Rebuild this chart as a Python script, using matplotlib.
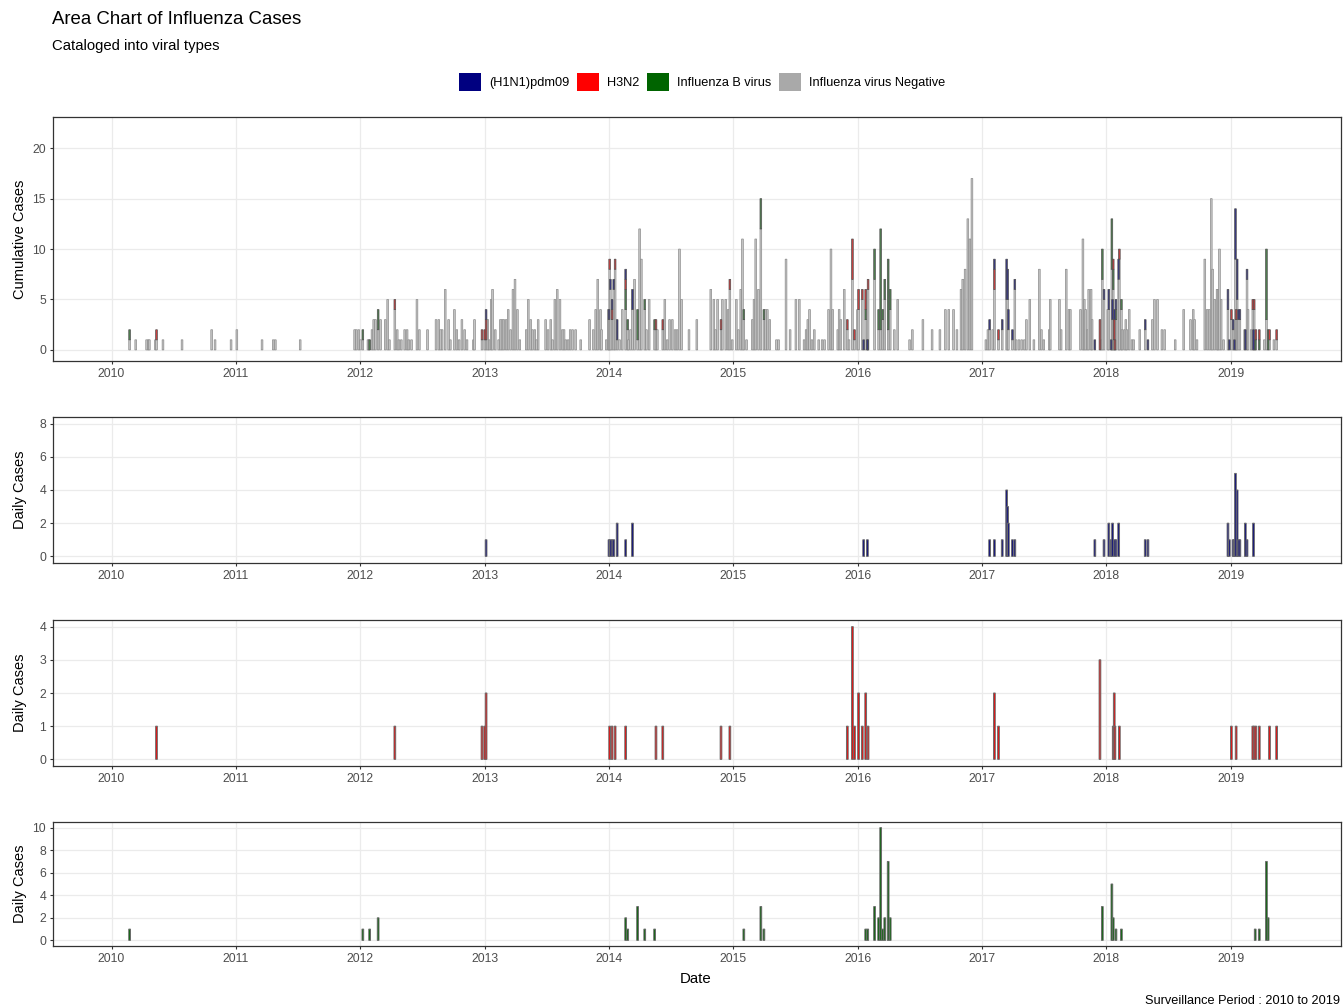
import pandas as pd
import matplotlib
matplotlib.use("Agg")
import matplotlib.pyplot as plt
import matplotlib.dates as mdates
from matplotlib.patches import Patch

plt.rcParams['font.family'] = ['Liberation Sans', 'DejaVu Sans']

# Weekly counts per viral type (date, cases)
h1n1_dates = ["2013-01-05", "2014-01-01", "2014-01-05", "2014-01-10", "2014-01-15", "2014-01-25",
              "2014-02-19", "2014-03-11", "2016-01-19", "2016-01-30", "2017-01-23", "2017-02-06",
              "2017-03-01", "2017-03-14", "2017-03-17", "2017-03-19", "2017-03-31", "2017-04-07",
              "2017-11-28", "2017-12-25", "2018-01-08", "2018-01-15", "2018-01-19", "2018-01-25",
              "2018-01-29", "2018-02-06", "2018-04-25", "2018-05-03", "2018-12-24", "2018-12-28",
              "2019-01-08", "2019-01-12", "2019-01-15", "2019-01-20", "2019-01-24", "2019-01-28",
              "2019-02-13", "2019-02-18", "2019-03-09"]
h1n1_cases = [1, 1, 1, 1, 1, 2,
              1, 2, 1, 1, 1, 1,
              1, 4, 3, 2, 1, 1,
              1, 1, 2, 1, 2, 1,
              1, 2, 1, 1, 2, 1,
              1, 1, 5, 4, 1, 1,
              2, 1, 2]

h3n2_dates = ["2010-05-13", "2012-04-12", "2012-12-24", "2013-01-01", "2013-01-05", "2014-01-03",
              "2014-01-10", "2014-01-19", "2014-02-19", "2014-05-19", "2014-06-08", "2014-11-26",
              "2014-12-22", "2015-12-02", "2015-12-17", "2015-12-23", "2016-01-04", "2016-01-15",
              "2016-01-25", "2016-02-01", "2017-02-06", "2017-02-18", "2017-12-13", "2018-01-21",
              "2018-01-24", "2018-01-26", "2018-02-08", "2019-01-03", "2019-01-17", "2019-03-07",
              "2019-03-11", "2019-03-16", "2019-03-26", "2019-04-25", "2019-05-16"]
h3n2_cases = [1, 1, 1, 1, 2, 1,
              1, 1, 1, 1, 1, 1,
              1, 1, 4, 1, 2, 1,
              2, 1, 2, 1, 3, 1,
              2, 1, 1, 1, 1, 1,
              1, 1, 1, 1, 1]

flub_dates = ["2010-02-23", "2012-01-09", "2012-01-29", "2012-02-23", "2014-02-19", "2014-02-25",
              "2014-03-26", "2014-04-16", "2014-05-15", "2015-02-01", "2015-03-23", "2015-04-01",
              "2016-01-25", "2016-01-31", "2016-02-20", "2016-03-03", "2016-03-09", "2016-03-15",
              "2016-03-21", "2016-03-31", "2016-04-06", "2017-12-20", "2018-01-17", "2018-01-21",
              "2018-01-29", "2018-02-14", "2019-03-14", "2019-03-26", "2019-04-16", "2019-04-21"]
flub_cases = [1, 1, 1, 2, 2, 1,
              3, 1, 1, 1, 3, 1,
              1, 1, 3, 2, 10, 1,
              2, 7, 2, 3, 5, 2,
              1, 1, 1, 1, 7, 2]

neg_dates = [
    "2010-02-23", "2010-03-13", "2010-04-14", "2010-04-19", "2010-04-22", "2010-05-10", "2010-05-13",
    "2010-06-01", "2010-07-27", "2010-10-22", "2010-11-01", "2010-12-18", "2011-01-04", "2011-03-19",
    "2011-04-21", "2011-04-27", "2011-07-09", "2011-12-16", "2011-12-21", "2011-12-28", "2012-01-02",
    "2012-01-09", "2012-01-24", "2012-01-27", "2012-02-05", "2012-02-10", "2012-02-15", "2012-02-23",
    "2012-03-01", "2012-03-15", "2012-03-22", "2012-03-27", "2012-04-12", "2012-04-19", "2012-04-24",
    "2012-05-01", "2012-05-11", "2012-05-18", "2012-05-23", "2012-05-31", "2012-06-16", "2012-06-23",
    "2012-07-17", "2012-08-11", "2012-08-19", "2012-08-24", "2012-08-29", "2012-09-07", "2012-09-17",
    "2012-09-22", "2012-10-04", "2012-10-11", "2012-10-18", "2012-10-26", "2012-11-03", "2012-11-10",
    "2012-11-29", "2012-12-02", "2012-12-24", "2013-01-01", "2013-01-05", "2013-01-10", "2013-01-14",
    "2013-01-20", "2013-01-24", "2013-02-01", "2013-02-11", "2013-02-16", "2013-02-21", "2013-02-26",
    "2013-03-05", "2013-03-11", "2013-03-18", "2013-03-25", "2013-03-31", "2013-04-07", "2013-04-14",
    "2013-05-03", "2013-05-09", "2013-05-16", "2013-05-21", "2013-05-28", "2013-06-02", "2013-06-07",
    "2013-06-29", "2013-07-06", "2013-07-14", "2013-07-19", "2013-07-26", "2013-08-02", "2013-08-10",
    "2013-08-17", "2013-08-22", "2013-08-27", "2013-09-03", "2013-09-09", "2013-09-16", "2013-09-25",
    "2013-10-10", "2013-11-05", "2013-11-16", "2013-11-23", "2013-11-29", "2013-12-07", "2013-12-10",
    "2013-12-24", "2013-12-30", "2014-01-01", "2014-01-03", "2014-01-05", "2014-01-10", "2014-01-15",
    "2014-01-19", "2014-01-25", "2014-02-01", "2014-02-09", "2014-02-19", "2014-02-25", "2014-02-27",
    "2014-03-05", "2014-03-11", "2014-03-17", "2014-03-26", "2014-04-01", "2014-04-06", "2014-04-16",
    "2014-04-21", "2014-04-29", "2014-05-15", "2014-05-19", "2014-05-23", "2014-06-08", "2014-06-14",
    "2014-06-21", "2014-06-28", "2014-07-06", "2014-07-14", "2014-07-20", "2014-07-27", "2014-08-02",
    "2014-08-24", "2014-09-16", "2014-10-27", "2014-11-05", "2014-11-10", "2014-11-16", "2014-11-26",
    "2014-11-30", "2014-12-10", "2014-12-17", "2014-12-22", "2014-12-29", "2015-01-10", "2015-01-16",
    "2015-01-23", "2015-01-28", "2015-02-01", "2015-02-09", "2015-02-26", "2015-03-03", "2015-03-08",
    "2015-03-16", "2015-03-23", "2015-04-01", "2015-04-06", "2015-04-11", "2015-04-18", "2015-05-08",
    "2015-05-14", "2015-06-05", "2015-06-17", "2015-07-04", "2015-07-14", "2015-07-28", "2015-08-03",
    "2015-08-08", "2015-08-13", "2015-08-20", "2015-08-27", "2015-09-09", "2015-09-19", "2015-09-26",
    "2015-10-08", "2015-10-15", "2015-10-20", "2015-11-04", "2015-11-08", "2015-11-13", "2015-11-23",
    "2015-12-02", "2015-12-07", "2015-12-17", "2015-12-23", "2016-01-01", "2016-01-04", "2016-01-15",
    "2016-01-25", "2016-02-01", "2016-02-20", "2016-03-03", "2016-03-09", "2016-03-15", "2016-03-21",
    "2016-03-31", "2016-04-06", "2016-04-18", "2016-04-28", "2016-06-02", "2016-06-10", "2016-07-11",
    "2016-08-07", "2016-08-30", "2016-09-15", "2016-09-25", "2016-10-09", "2016-10-19", "2016-10-31",
    "2016-11-05", "2016-11-12", "2016-11-20", "2016-11-26", "2016-12-02", "2017-01-12", "2017-01-18",
    "2017-01-23", "2017-02-01", "2017-02-06", "2017-02-18", "2017-03-01", "2017-03-14", "2017-03-17",
    "2017-03-19", "2017-03-31", "2017-04-07", "2017-04-11", "2017-04-19", "2017-04-27", "2017-05-05",
    "2017-05-11", "2017-05-21", "2017-06-02", "2017-06-18", "2017-06-24", "2017-07-01", "2017-07-17",
    "2017-07-20", "2017-08-16", "2017-08-21", "2017-09-05", "2017-09-13", "2017-09-17", "2017-10-17",
    "2017-10-24", "2017-10-28", "2017-11-01", "2017-11-06", "2017-11-10", "2017-11-17", "2017-11-20",
    "2017-12-17", "2017-12-20", "2017-12-25", "2018-01-05", "2018-01-08", "2018-01-17", "2018-01-19",
    "2018-01-21", "2018-01-24", "2018-01-25", "2018-01-29", "2018-02-06", "2018-02-08", "2018-02-14",
    "2018-02-16", "2018-02-23", "2018-02-27", "2018-03-02", "2018-03-09", "2018-03-17", "2018-03-22",
    "2018-04-09", "2018-04-25", "2018-05-16", "2018-05-22", "2018-05-31", "2018-06-13", "2018-06-21",
    "2018-07-22", "2018-08-16", "2018-09-05", "2018-09-13", "2018-09-17", "2018-09-24", "2018-10-17",
    "2018-10-24", "2018-10-30", "2018-11-05", "2018-11-09", "2018-11-15", "2018-11-22", "2018-11-25",
    "2018-11-29", "2018-12-04", "2018-12-11", "2018-12-24", "2019-01-03", "2019-01-08", "2019-01-15",
    "2019-01-17", "2019-01-20", "2019-01-24", "2019-01-28", "2019-02-11", "2019-02-18", "2019-02-21",
    "2019-03-02", "2019-03-07", "2019-03-11", "2019-03-16", "2019-04-10", "2019-04-16", "2019-04-25",
    "2019-05-08", "2019-05-16"]
neg_cases = [
    1, 1, 1, 1, 1, 1, 1,
    1, 1, 2, 1, 1, 2, 1,
    1, 1, 1, 2, 2, 2, 1,
    1, 1, 1, 2, 3, 3, 2,
    3, 3, 5, 1, 4, 2, 1,
    1, 2, 2, 1, 1, 5, 2,
    2, 3, 3, 2, 2, 6, 3,
    1, 4, 2, 1, 3, 2, 1,
    1, 3, 1, 1, 1, 3, 1,
    5, 6, 2, 1, 3, 3, 3,
    3, 4, 2, 6, 7, 4, 1,
    2, 5, 3, 2, 2, 1, 3,
    3, 2, 3, 1, 5, 6, 5,
    2, 2, 1, 1, 2, 2, 2,
    1, 3, 2, 4, 7, 4, 2,
    1, 4, 3, 8, 6, 3, 6,
    8, 1, 1, 4, 4, 2, 1,
    2, 4, 7, 1, 12, 9, 4,
    2, 5, 2, 2, 2, 2, 5,
    1, 3, 3, 2, 2, 10, 5,
    2, 3, 6, 5, 2, 5, 2,
    5, 5, 4, 6, 1, 5, 2,
    6, 11, 3, 1, 3, 5, 11,
    6, 12, 3, 4, 4, 3, 1,
    1, 9, 2, 5, 5, 1, 2,
    3, 4, 1, 2, 1, 1, 1,
    4, 10, 4, 2, 4, 3, 6,
    2, 1, 7, 1, 4, 4, 5,
    3, 6, 7, 2, 2, 3, 5,
    2, 4, 2, 5, 1, 2, 3,
    2, 2, 4, 4, 4, 2, 6,
    7, 8, 13, 11, 17, 1, 2,
    2, 2, 6, 1, 2, 5, 5,
    2, 1, 6, 1, 1, 1, 1,
    3, 5, 1, 8, 2, 1, 2,
    5, 5, 2, 8, 4, 4, 4,
    11, 5, 4, 2, 6, 6, 3,
    1, 7, 5, 4, 4, 8, 3,
    6, 1, 3, 3, 7, 9, 4,
    2, 2, 3, 2, 4, 1, 1,
    2, 2, 3, 5, 5, 2, 2,
    1, 4, 3, 4, 3, 1, 9,
    4, 4, 15, 8, 5, 6, 6,
    10, 5, 1, 4, 3, 2, 9,
    3, 5, 3, 3, 2, 7, 4,
    2, 4, 4, 1, 1, 3, 1,
    1, 1]

type_names = ["(H1N1)pdm09", "H3N2", "Influenza B virus", "Influenza virus Negative"]
type_colors = ["#000080", "#FF0000", "#006400", "#A9A9A9"]

series = {
    "(H1N1)pdm09": pd.Series(h1n1_cases, index=pd.to_datetime(h1n1_dates)),
    "H3N2": pd.Series(h3n2_cases, index=pd.to_datetime(h3n2_dates)),
    "Influenza B virus": pd.Series(flub_cases, index=pd.to_datetime(flub_dates)),
    "Influenza virus Negative": pd.Series(neg_cases, index=pd.to_datetime(neg_dates)),
}
table = pd.DataFrame({k: s.groupby(level=0).sum() for k, s in series.items()}).fillna(0)

bar_w = 5  # days
x_min = pd.Timestamp("2009-07-13")
x_max = pd.Timestamp("2019-11-21")

W, H = 1343, 1008
fig = plt.figure(figsize=(W / 100, H / 100), dpi=100)


def px_axes(top, bottom, left=53, right=1341):
    return fig.add_axes([left / W, 1 - bottom / H, (right - left) / W, (bottom - top) / H])


def style_axes(ax, ylim, yticks):
    ax.set_xlim(x_min, x_max)
    ax.set_ylim(*ylim)
    ax.set_yticks(yticks)
    ax.xaxis.set_major_locator(mdates.YearLocator())
    ax.xaxis.set_major_formatter(mdates.DateFormatter("%Y"))
    ax.grid(True, color="#ebebeb", linewidth=0.9)
    ax.set_axisbelow(True)
    for sp in ax.spines.values():
        sp.set_color("#333333")
        sp.set_linewidth(0.9)
    ax.tick_params(axis="both", length=2.5, width=0.8, color="#333333",
                   labelsize=8.8, labelcolor="#4d4d4d", pad=2.5)


# cumulative panel: types stacked on each date, negatives at the bottom
ax1 = px_axes(117, 361)
stack_order = ["Influenza virus Negative", "Influenza B virus", "H3N2", "(H1N1)pdm09"]
top_fill = {"Influenza virus Negative": "#c6c6c6", "Influenza B virus": "#4f7f4f",
            "H3N2": "#c84040", "(H1N1)pdm09": "#383880"}
bottom = pd.Series(0.0, index=table.index)
for name in stack_order:
    vals = table[name]
    keep = vals > 0
    edge = "#8a8a8a" if name == "Influenza virus Negative" else "#505050"
    ax1.bar(table.index[keep], vals[keep], bottom=bottom[keep], width=bar_w,
            color=top_fill[name], edgecolor=edge, linewidth=0.5, snap=False)
    bottom = bottom + vals
style_axes(ax1, (-1.1, 23.1), [0, 5, 10, 15, 20])

# daily panels, one per viral type
daily = [
    ("(H1N1)pdm09", 417, 563, (-0.4, 8.4), [0, 2, 4, 6, 8]),
    ("H3N2", 620, 766, (-0.2, 4.2), [0, 1, 2, 3, 4]),
    ("Influenza B virus", 822, 946, (-0.5, 10.5), [0, 2, 4, 6, 8, 10]),
]
for name, top, bot, ylim, yt in daily:
    ax = px_axes(top, bot)
    s = series[name]
    ax.bar(s.index, s.values, width=bar_w, color=type_colors[type_names.index(name)],
           edgecolor="#6a6a6a", linewidth=0.7, snap=False)
    style_axes(ax, ylim, yt)
    fig.text(20 / W, 1 - (top + bot) / 2 / H, "Daily Cases", rotation=90,
             ha="center", va="center", fontsize=10.5, color="black")

fig.text(20 / W, 1 - (117 + 361) / 2 / H, "Cumulative Cases", rotation=90,
         ha="center", va="center", fontsize=10.5, color="black")

fig.text(52 / W, 1 - 20 / H, "Area Chart of Influenza Cases", fontsize=13.4,
         ha="left", va="center")
fig.text(52 / W, 1 - 46 / H, "Cataloged into viral types", fontsize=10.7,
         ha="left", va="center")
fig.text(696 / W, 1 - 979 / H, "Date", fontsize=10.8, ha="center", va="center")
fig.text(1340 / W, 1 - 1001 / H, "Surveillance Period : 2010 to 2019", fontsize=9.2,
         ha="right", va="center")

handles = [Patch(facecolor=c, edgecolor="none", label=n) for n, c in zip(type_names, type_colors)]
fig.legend(handles=handles, loc="center", bbox_to_anchor=(702 / W, 1 - 82 / H), ncol=4,
           frameon=False, fontsize=9.2, handlelength=1.75, handleheight=1.75,
           handletextpad=0.6, columnspacing=0.6)

fig.savefig("out.png", dpi=100)
